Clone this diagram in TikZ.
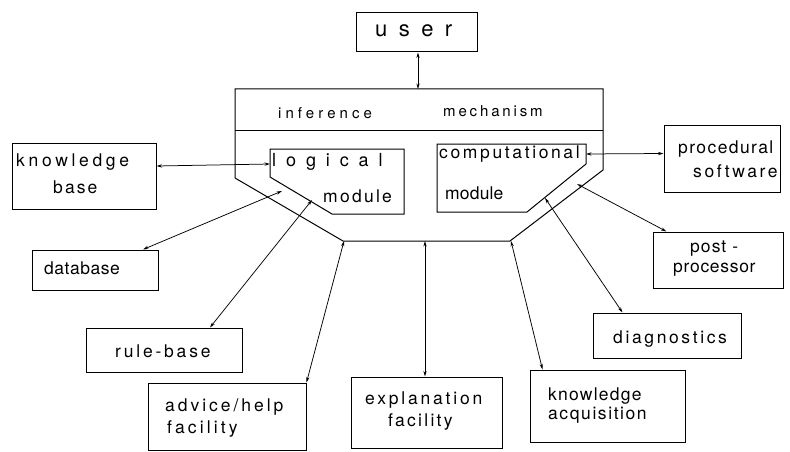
\documentclass[tikz,border=0pt]{standalone}
\usepackage{fontspec}
\setmainfont{TeX Gyre Heros}
\usetikzlibrary{arrows.meta,calc}
% tracked lettering: \ls{tracking}{text}
\newcommand\ls[2]{{\addfontfeature{LetterSpace=#1}#2}}

\begin{document}
\begin{tikzpicture}[x=1pt,y=-1pt,
  box/.style={draw,line width=1pt,inner sep=0pt},
  txt/.style={inner sep=0pt,anchor=base west,font=\fontsize{17.5}{20}\selectfont},
  link/.style={line width=0.75pt,{Stealth[length=5.5pt,width=3.2pt]}-{Stealth[length=5.5pt,width=3.2pt]}},
  frame/.style={line width=1pt,line join=miter}]
\useasboundingbox (0,0) rectangle (790,452);

% ---- surrounding boxes
\node[box,minimum width=121pt,minimum height=39pt] (user) at (416.5,32.5) {};
\node[box,minimum width=144pt,minimum height=66pt] (kb)   at (84,176) {};
\node[box,minimum width=116pt,minimum height=67pt] (proc) at (722,158.5) {};
\node[box,minimum width=130pt,minimum height=56pt] (post) at (718,260) {};
\node[box,minimum width=148pt,minimum height=45pt] (diag) at (667,335.5) {};
\node[box,minimum width=155pt,minimum height=72pt] (kacq) at (607.5,406) {};
\node[box,minimum width=151pt,minimum height=71pt] (expl) at (426.5,412.5) {};
\node[box,minimum width=158pt,minimum height=67pt] (adv)  at (227,416.5) {};
\node[box,minimum width=156pt,minimum height=44pt] (rule) at (164,350) {};
\node[box,minimum width=126pt,minimum height=40pt] (db)   at (95,270) {};

% ---- inference mechanism with its two modules
\draw[frame] (235,89) -- (603,89) -- (603,170) -- (510,241) -- (343,241) -- (235,178) -- cycle;
\draw[frame] (235,130) -- (603,130);
\draw[frame] (270,149) -- (404,149) -- (404,214) -- (332,214) -- (270,177) -- cycle;
\draw[frame] (437,144) -- (586,144) -- (586,164) -- (527,212) -- (437,212) -- cycle;

% ---- attachment points on the mechanism
\coordinate (mTop)   at (418,89);
\coordinate (lgL)    at (270,164);
\coordinate (cpR)    at (586,154);
\coordinate (mPost)  at (577,184);
\coordinate (cpDiag) at (545,198);
\coordinate (mBR)    at (511,241);
\coordinate (mBot)   at (425,241);
\coordinate (mBL)    at (344,241);
\coordinate (lgDiag) at (312,200);
\coordinate (lgGap)  at (282,191);

% ---- labels
\node[txt,font=\fontsize{22}{25}\selectfont] (userT) at (375,37) {\ls{52}{user}};
\node[txt,font=\fontsize{15}{17}\selectfont] (infT) at (278,118) {\ls{27}{inference}};
\node[txt,font=\fontsize{15}{17}\selectfont] (mechT) at (443,116) {\ls{19}{mechanism}};
\node[txt,font=\fontsize{18}{20}\selectfont] (lgT1) at (272,166) {\ls{55}{logical}};
\node[txt] (lgT2) at (323,202) {\ls{13}{module}};
\node[txt] (cpT1) at (439,158) {\ls{15}{computational}};
\node[txt] (cpT2) at (445,199) {\ls{1}{module}};
\node[txt] (kbT1) at (16,166) {\ls{21}{knowledge}};
\node[txt] (kbT2) at (53,193) {\ls{12}{base}};
\node[txt] (prT1) at (678,153) {\ls{8}{procedural}};
\node[txt] (prT2) at (693,177) {\ls{15}{software}};
\node[txt] (poT1) at (690,252) {\ls{6}{post -}};
\node[txt] (poT2) at (673,272) {\ls{4}{processor}};
\node[txt] (dgT)  at (613,343) {\ls{15}{diagnostics}};
\node[txt] (kaT1) at (548,400) {\ls{7}{knowledge}};
\node[txt] (kaT2) at (548,419) {\ls{9}{acquisition}};
\node[txt] (exT1) at (365,404) {\ls{16}{explanation}};
\node[txt] (exT2) at (388,426) {\ls{13}{facility}};
\node[txt] (adT1) at (165,411) {\ls{17}{advice/help}};
\node[txt] (adT2) at (167,433) {\ls{18}{facility}};
\node[txt] (rbT)  at (115,357) {\ls{16}{rule-base}};
\node[txt] (dbT)  at (44,274)  {\ls{3}{database}};

% ---- two-way connectors
\draw[link] (user.south -| mTop) -- (mTop);
\draw[link] ($(kb.east)+(0,-10)$) -- (lgL);
\draw[link] (cpR) -- ($(proc.west)+(0,-5)$);
\draw[link] ($(post.north west)+(14,0)$) -- (mPost);
\draw[link] ($(diag.north west)+(30,0)$) -- (cpDiag);
\draw[link] ($(kacq.north west)+(13,0)$) -- (mBR);
\draw[link] (expl.north -| mBot) -- (mBot);
\draw[link] (adv.north east) -- (mBL);
\draw[link] ($(rule.north)+(46,0)$) -- (lgDiag);
\draw[link] ($(db.north)+(48,0)$) -- (lgGap);
\end{tikzpicture}
\end{document}
